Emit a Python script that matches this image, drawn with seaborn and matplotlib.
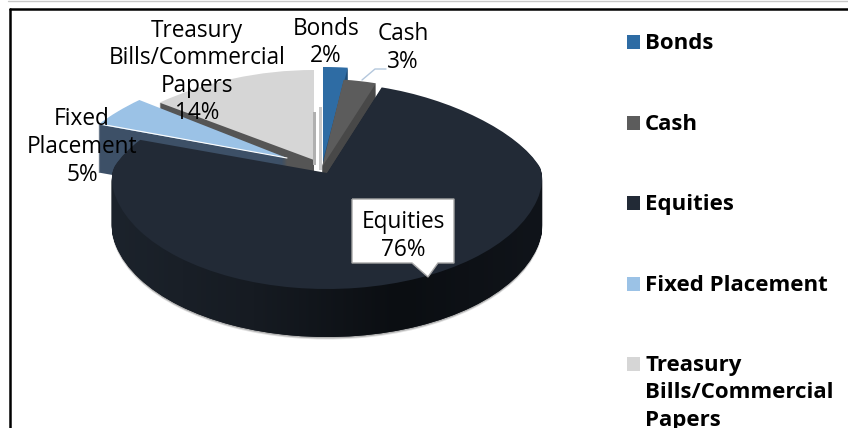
'''3D looking pie of the asset allocation, drawn from stacked ax.pie wedges'''
import numpy as np
import seaborn as sns
import matplotlib.pyplot as plt
from matplotlib.patches import PathPatch, Rectangle
from matplotlib.path import Path

categories = ['Bonds', 'Cash', 'Equities', 'Fixed Placement', 'Treasury\nBills/Commercial\nPapers']
shares = [2, 3, 76, 5, 14]

top_colors = ['#2e6ca4', '#5c5c5c', '#222a36', '#9bc2e6', '#d6d6d6']
wall_colors = ['#1f4e79', '#484848', '#161b23', '#3d5067', '#555555']

W, H = 848, 428
DEPTH = 48
NARROW = 0.19  # back of the pie narrows with the perspective

sns.set_theme(style='white')
plt.rcParams['font.family'] = ['Open Sans', 'DejaVu Sans']

fig = plt.figure(figsize=(W / 100, H / 100), dpi=100)
ax = fig.add_axes([0, 0, 1, 1])

wedges, _ = ax.pie(shares, startangle=90, counterclock=False, radius=1)
ax.set_aspect('auto')
for w in wedges:
    w.set_visible(False)

# apex, x radius, back and front y radius of each slice, in pixels
apex = [(323, 160), (322, 167), (327, 173), (287, 158), (314, 160)]
rad_x = [244, 213, 216, 218, 228]
rad_back = [93, 88, 90, 91, 90]
rad_front = [116, 116, 116, 116, 116]
order = [0, 1, 4, 3, 2]


def slice_path(i, dy=0.0):
    '''wedge i as an ellipse piece, squashed more at the back than the front'''
    w = wedges[i]
    path = Path.wedge(w.theta1, w.theta2)
    v = path.vertices.copy()
    x = apex[i][0] + v[:, 0] * rad_x[i] * (1 - NARROW * np.clip(v[:, 1], 0, 1))
    y = np.where(v[:, 1] > 0, -v[:, 1] * rad_back[i], -v[:, 1] * rad_front[i])
    return Path(np.column_stack([x, apex[i][1] + y + dy]), path.codes)


for i in order:
    if i == 2:
        continue
    for dy in np.arange(DEPTH, 0, -1.0):
        ax.add_patch(PathPatch(slice_path(i, dy), fc=wall_colors[i], ec='none', zorder=2))
    ax.add_patch(PathPatch(slice_path(i), fc=top_colors[i], ec='none', zorder=2))
    if i == 3:
        ax.plot([100, 287], [124, 158], color='white', lw=0.8, zorder=2)

# inner walls next to the gap at the top
ax.add_patch(Rectangle((313, 112), 3, 53, fc='#b0b0b0', ec='none', zorder=2))
ax.add_patch(Rectangle((319, 107), 3, 63, fc='#c9c9c9', ec='none', zorder=2))

# soft shadow round the bottom of the big slice
for grow, alpha in ((2.5, 0.12), (1.5, 0.2)):
    ax.add_patch(PathPatch(slice_path(2, DEPTH + grow), fc='#000000', alpha=alpha, ec='none', zorder=2))

clip = Path.make_compound_path(*[slice_path(2, dy) for dy in np.arange(DEPTH, 0, -1.0)])
for dy in np.arange(DEPTH, 0, -1.0):
    ax.add_patch(PathPatch(slice_path(2, dy), fc=wall_colors[2], ec='none', zorder=3))
shade = np.linspace(0, 1, 256).reshape(1, -1)
img = ax.imshow(shade, extent=(110, 542, 345, 100), cmap=sns.blend_palette(['#1c232c', '#161b22', '#0b0e12', '#10141a'], as_cmap=True),
                aspect='auto', zorder=3.5)
img.set_clip_path(PathPatch(clip, transform=ax.transData))
ax.add_patch(PathPatch(slice_path(2), fc=top_colors[2], ec='none', zorder=4))
ax.set_xlim(0, W)
ax.set_ylim(H, 0)
ax.set_aspect('auto')

# data labels
label_style = dict(ha='center', va='center', fontsize=16.3, color='#000000', linespacing=1.2, zorder=6)
ax.text(326, 42.5, categories[0] + '\n' + f'{shares[0]}%', **label_style)
ax.text(403, 48, categories[1] + '\n' + f'{shares[1]}%', **label_style)
ax.text(197, 72, categories[4] + '\n' + f'{shares[4]}%', **label_style)
ax.text(82, 147, 'Fixed\nPlacement\n' + f'{shares[3]}%', **label_style)
ax.plot([362, 375, 386], [80, 69, 69], color='#b4c7dc', lw=1, zorder=5)

# callout on the big slice
ax.add_patch(PathPatch(Path([(352, 199), (454, 199), (454, 263), (438, 263), (428, 277), (412, 263), (352, 263), (352, 199)]),
                       fc='white', ec='#a6a6a6', lw=1, zorder=5))
ax.text(403, 236, categories[2] + '\n' + f'{shares[2]}%', **label_style)

# legend, the entries sit far apart so it is laid out by hand
legend_y = [42, 123, 203, 284, 364]
for name, color, y in zip(categories, top_colors, legend_y):
    ax.add_patch(Rectangle((627, y - 7), 13, 14, fc=color, ec='none', zorder=5))
    ax.text(645, y - 9, name, ha='left', va='top', fontsize=16, fontweight='bold',
            color='#000000', linespacing=1.4, zorder=6)

# chart frame, open at the right and the bottom
ax.plot([10, W], [9, 9], color='black', lw=1.8, zorder=7)
ax.plot([10, 10], [9, H], color='black', lw=1.8, zorder=7)
ax.plot([8, W], [0.5, 0.5], color='#c8c8c8', lw=1.0, zorder=7)

ax.axis('off')
fig.savefig('out.png', dpi=100)
